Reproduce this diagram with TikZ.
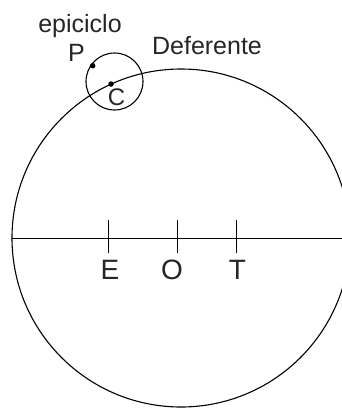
\documentclass[tikz,border=0pt]{standalone}
\usepackage{fontspec}
\setmainfont{Liberation Sans}
\begin{document}
\begin{tikzpicture}[x=1pt,y=-1pt,line width=1.1pt,
  lbl/.style={inner sep=0pt,anchor=base,text=black!85,font=\fontsize{25}{25}\selectfont},
  axlbl/.style={lbl,font=\fontsize{28}{28}\selectfont},
  clbl/.style={lbl,font=\fontsize{24}{24}\selectfont},
  dotmark/.style={circle,fill=black,inner sep=0pt,minimum size=5.5pt},
  tick/.style={line width=1.1pt}]
\useasboundingbox (0,0) rectangle (342,408);
% deferent (big circle), clipped at the right edge
\coordinate (Dc) at (181,238);
\begin{scope}
  \clip (0,0) rectangle (342,408);
  \draw (Dc) circle[radius=169pt];
\end{scope}
% epicycle
\coordinate (Ec) at (114.5,81.5);
\draw (Ec) circle[radius=28.5pt];
% axis
\coordinate (L) at (11.7,238.3);
\coordinate (R) at (342,238.3);
\draw (L) -- (R);
\coordinate (Et) at (108.3,220); \coordinate (Eb) at (108.3,253);
\coordinate (Ot) at (177.3,220); \coordinate (Ob) at (177.3,253);
\coordinate (Tt) at (236.7,220); \coordinate (Tb) at (236.7,253);
\draw[tick] (Et) -- (Eb);
\draw[tick] (Ot) -- (Ob);
\draw[tick] (Tt) -- (Tb);
% points
\node[dotmark] (P) at (92.7,65.7) {};
\node[dotmark] (C) at (111,84) {};
% labels
\node[lbl] (epi) at (80,32) {epiciclo};
\node[lbl] (def) at (207,54) {Deferente};
\node[lbl] (Plbl) at (76.5,61.7) {P};
\node[clbl] (Clbl) at (116.5,105) {C};
\node[axlbl] (Elbl) at (110,279) {E};
\node[axlbl] (Olbl) at (172,279) {O};
\node[axlbl] (Tlbl) at (237.5,279) {T};
\end{tikzpicture}
\end{document}
